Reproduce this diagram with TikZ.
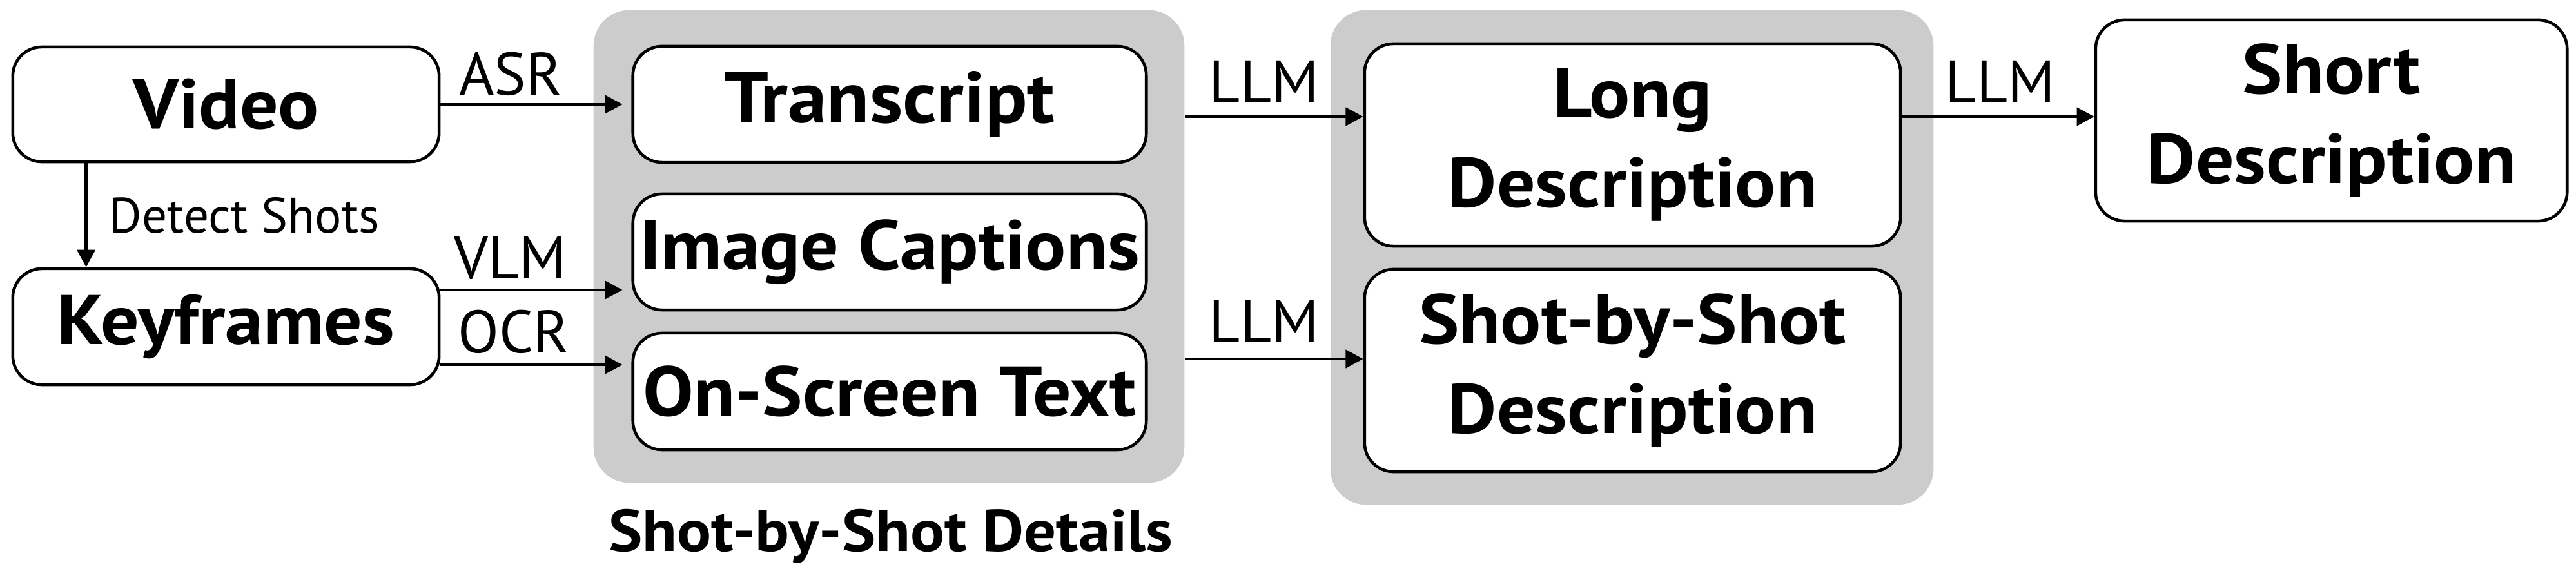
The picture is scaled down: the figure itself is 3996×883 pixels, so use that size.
\documentclass[tikz,border=0pt]{standalone}
\usepackage{fontspec}
\setmainfont{PT Sans}
\newfontfamily\boldfam{PT Sans}[FakeStretch=1.08]
\usetikzlibrary{arrows.meta,calc}
\definecolor{bggray}{HTML}{CCCCCC}
\begin{document}
\begin{tikzpicture}[x=0.01cm,y=-0.01cm,
  box/.style={draw=black,line width=1.3pt,fill=white,rounded corners=0.45cm,align=center,inner sep=0pt,font=\boldfam\bfseries\fontsize{31}{39.5}\selectfont},
  group/.style={fill=bggray,rounded corners=0.55cm,inner sep=0pt},
  arr/.style={line width=1.2pt,-{Triangle[length=0.27cm,width=0.28cm]}},
  lab/.style={anchor=base,inner sep=0pt,font=\fontsize{26.5}{30}\selectfont},
]
\useasboundingbox (0,0) rectangle (3996,883);
% groups
\node[group,minimum width=9.16cm,minimum height=7.33cm] (bg1) at (1379,382.5) {};
\node[group,minimum width=9.35cm,minimum height=7.67cm] (bg2) at (2531.5,399.5) {};
% boxes
\node[box,minimum width=6.61cm,minimum height=1.78cm] (video) at (350.5,162) {Video};
\node[box,minimum width=6.61cm,minimum height=1.80cm] (keyframes) at (350.5,507) {Keyframes};
\node[box,minimum width=7.96cm,minimum height=1.80cm,font=\boldfam\bfseries\fontsize{32}{39.5}\selectfont] (transcript) at (1380,162) {Transcript};
\node[box,minimum width=7.96cm,minimum height=1.80cm] (captions) at (1380,391) {Image Captions};
\node[box,minimum width=7.96cm,minimum height=1.81cm] (onscreen) at (1380,607.5) {On-Screen Text};
\node[box,minimum width=8.31cm,minimum height=3.14cm] (longdesc) at (2532.5,225) {Long\\Description};
\node[box,minimum width=8.31cm,minimum height=3.14cm] (sbsdesc) at (2532.5,575) {Shot-by-Shot\\Description};
\node[box,minimum width=7.31cm,minimum height=3.12cm] (shortdesc) at (3616.5,187) {Short\\Description};
% arrows
\draw[arr,shorten >=0.14cm] (video.east) -- (transcript.west);
\draw[arr] ([xshift=1.16cm]video.south west) -- ([xshift=1.16cm]keyframes.north west);
\draw[arr,shorten >=0.14cm] ([yshift=0.57cm]keyframes.east) -- ([yshift=0.57cm]keyframes.east -| captions.west);
\draw[arr,shorten >=0.14cm] ([yshift=-0.59cm]keyframes.east) -- ([yshift=-0.59cm]keyframes.east -| onscreen.west);
\draw[arr] ([yshift=0.44cm]longdesc.west -| bg1.east) -- ([yshift=0.44cm]longdesc.west);
\draw[arr] ([yshift=0.18cm]sbsdesc.west -| bg1.east) -- ([yshift=0.18cm]sbsdesc.west);
\draw[arr] ([yshift=0.44cm]longdesc.east) -- ([yshift=0.44cm]longdesc.east -| shortdesc.west);
% labels
\node[lab] (asr) at (792,148) {ASR};
\node[lab] (vlm) at (792,433) {VLM};
\node[lab] (ocr) at (797,548) {OCR};
\node[lab] (llma) at (1961,160) {LLM};
\node[lab] (llmb) at (1961,532) {LLM};
\node[lab] (llmc) at (3103,160) {LLM};
\node[lab,anchor=base west,font=\fontsize{22}{26}\selectfont] (detect) at (169,362) {Detect Shots};
\node[lab,font=\boldfam\bfseries\fontsize{26}{30}\selectfont] (details) at (1382,856) {Shot-by-Shot Details};
\end{tikzpicture}
\end{document}
